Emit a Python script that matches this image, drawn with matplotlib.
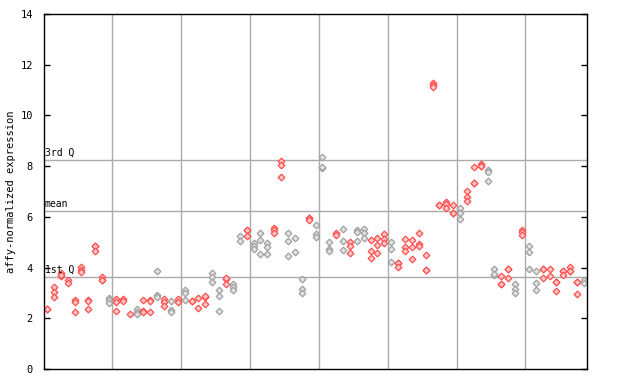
import matplotlib
matplotlib.use("Agg")
import matplotlib.pyplot as plt

# valores por columna (muestra)
valores = [
    [2.35, 2.37], [3.23, 3.04, 2.84], [3.79, 3.67, 3.7], [3.5, 3.4], [2.72, 2.65, 2.25],
    [4.02, 3.9, 3.82], [2.72, 2.7, 2.37], [4.85, 4.87, 4.65], [3.62, 3.5, 3.52], [2.8, 2.72, 2.6],
    [2.76, 2.64, 2.29], [2.76, 2.68], [2.17], [2.37, 2.25, 2.17], [2.72, 2.29, 2.25],
    [2.72, 2.7, 2.25], [3.86, 2.92, 2.84], [2.76, 2.64, 2.48], [2.68, 2.33, 2.25], [2.76, 2.64],
    [3.11, 2.99, 2.72], [2.68, 2.7], [2.8, 2.41], [2.84, 2.86, 2.56], [3.79, 3.63, 3.43],
    [3.11, 2.88, 2.29], [3.55, 3.57, 3.35], [3.35, 3.23, 3.11], [5.24, 5.05], [5.48, 5.5, 5.24],
    [4.97, 4.85, 4.73], [5.36, 5.09, 4.53], [4.97, 4.81, 4.53], [5.56, 5.48, 5.36], [8.2, 8.04, 7.57],
    [5.36, 5.05, 4.46], [5.17, 4.61], [3.55, 3.15, 3.0], [5.95, 5.97, 5.88], [5.68, 5.32, 5.2],
    [8.36, 7.93, 7.95], [5.0, 4.73, 4.65], [5.36, 5.3], [5.52, 5.05, 4.69], [5.0, 4.85, 4.57],
    [5.48, 5.4, 5.05], [5.52, 5.36, 5.17], [5.09, 4.65, 4.38], [5.17, 4.89, 4.57], [5.32, 5.13, 4.97],
    [5.0, 4.73, 4.22], [4.18, 4.2, 4.02], [5.13, 4.81, 4.65], [5.09, 4.81, 4.34], [5.36, 4.93, 4.85],
    [4.5, 3.9, 3.92], [11.28, 11.2, 11.12], [6.47, 6.45], [6.59, 6.5, 6.35], [6.47, 6.15, 6.17],
    [6.35, 6.15, 5.91], [7.02, 6.78, 6.62], [7.97, 7.33, 7.35], [8.08, 8.0, 8.02], [7.85, 7.77, 7.41],
    [3.94, 3.71, 3.73], [3.67, 3.35, 3.37], [3.94, 3.96, 3.59], [3.35, 3.15, 3.0], [5.48, 5.4, 5.28],
    [4.85, 4.61, 3.94], [3.86, 3.39, 3.11], [3.94, 3.96, 3.59], [3.94, 3.67], [3.43, 3.45, 3.07],
    [3.86, 3.88, 3.71], [4.02, 3.86, 3.88], [3.43, 3.45, 2.96], [3.5, 3.39],
]

# columnas dibujadas en gris (el resto en rojo)
columnas_grises = [9, 13, 16, 18, 20, 24, 25, 27, 28, 30, 31, 32, 35, 36, 37, 39, 40, 41,
                   43, 45, 46, 50, 60, 64, 65, 68, 70, 71, 78]

separadores = [9.5, 19.5, 29.5, 39.5, 49.5, 59.5, 69.5]
cuartiles = [("1st Q", 3.62), ("mean", 6.22), ("3rd Q", 8.24)]
ticks_y = [0, 2, 4, 6, 8, 10, 12, 14]

fig = plt.figure(figsize=(6.4, 3.84), dpi=100)
ax = fig.add_axes([44 / 640, 15 / 384, 543 / 640, 355 / 384])

for xs in separadores:
    ax.axvline(xs, color="#aaaaaa", lw=1, zorder=1)
for nombre, y in cuartiles:
    ax.axhline(y, color="#aaaaaa", lw=1, zorder=1)
    ax.text(-0.35, y + 0.08, nombre, fontsize=7, family="DejaVu Sans Mono",
            ha="left", va="bottom", zorder=3)

for i, col in enumerate(valores):
    if i in columnas_grises:
        borde, relleno = "#a0a0a0", "#e2e2e2"
    else:
        borde, relleno = "#ff5050", "#ffc8c8"
    ax.plot([i] * len(col), col, linestyle="none", marker="D", ms=3.4,
            mec=borde, mfc=relleno, mew=0.9, zorder=2)

ax.set_xlim(-0.44, 78.44)
ax.set_ylim(0, 14)
ax.set_xticks([])
ax.set_yticks(ticks_y)
ax.set_yticklabels([str(t) for t in ticks_y], family="DejaVu Sans Mono", fontsize=7.5)
ax.tick_params(axis="y", direction="in", length=4, width=1, right=True, pad=8)
for s in ax.spines.values():
    s.set_linewidth(1)
ax.set_ylabel("affy-normalized expression", family="DejaVu Sans Mono", fontsize=7.5,
              labelpad=3)

fig.savefig("out.png", dpi=100)
